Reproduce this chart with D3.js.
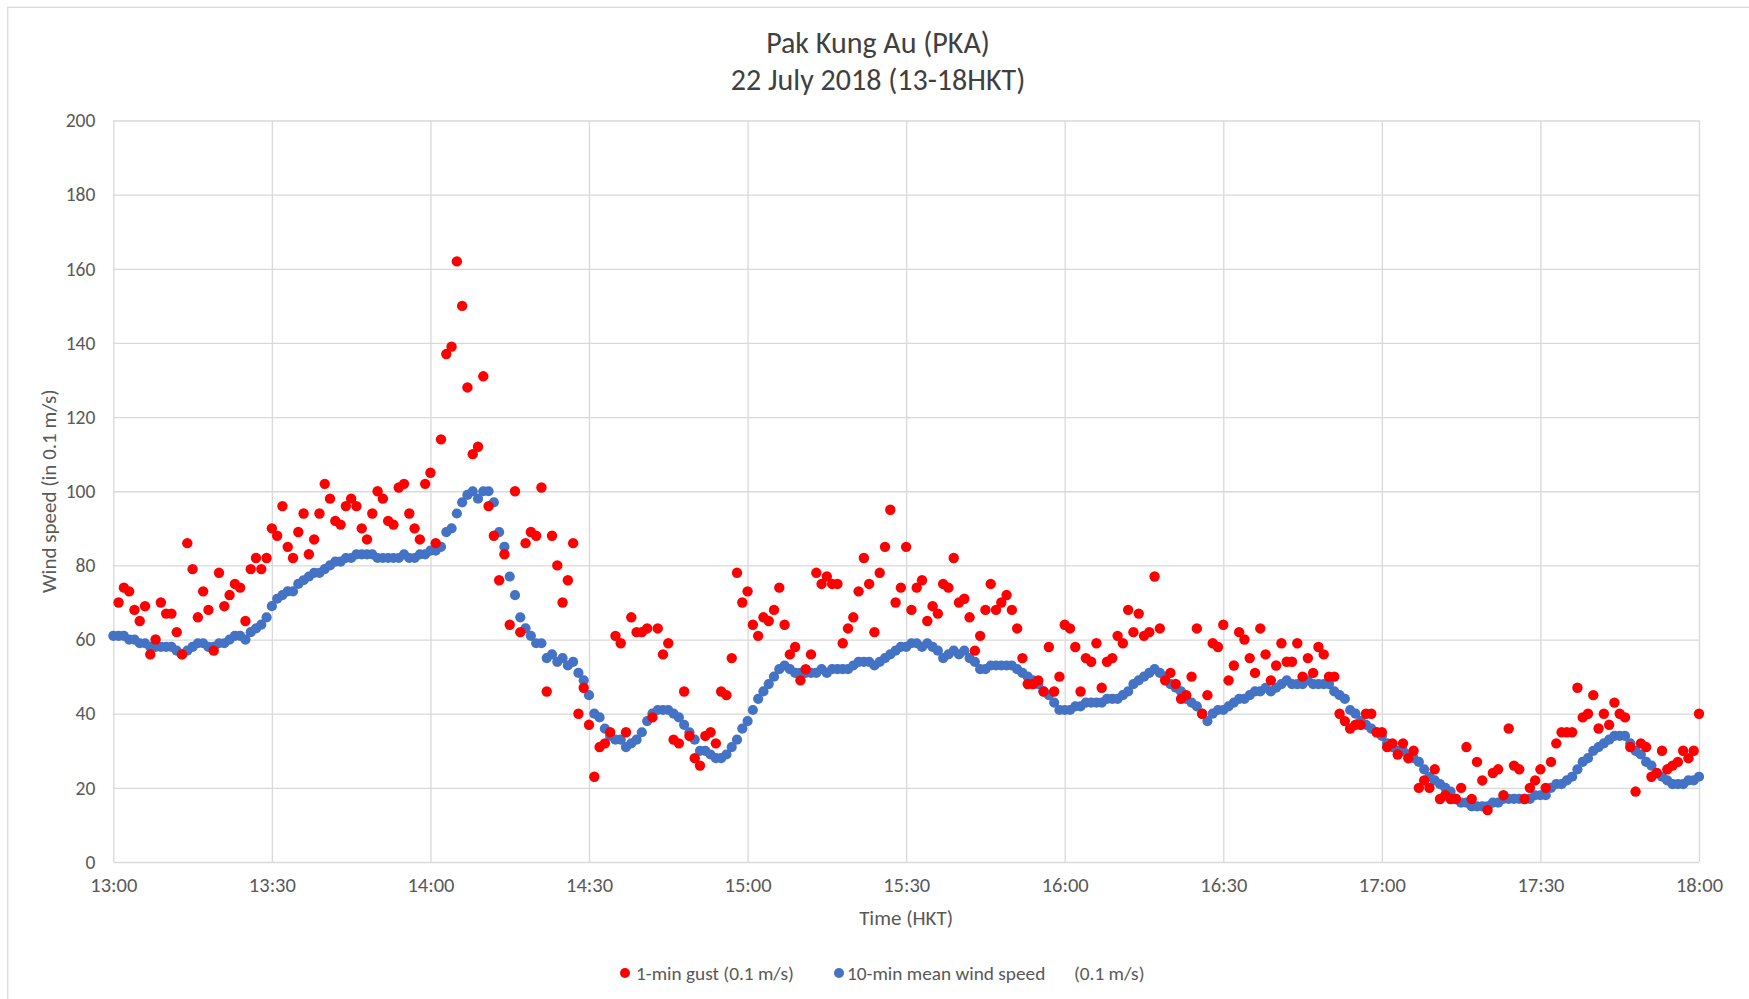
<!DOCTYPE html>
<html>
<head>
<meta charset="utf-8">
<script src="https://cdn.jsdelivr.net/npm/d3@7"></script>
<style>
  body { margin: 0; background: #ffffff; }
  svg text { font-family: Carlito, Lato, "Open Sans", sans-serif; }
</style>
</head>
<body>
<svg id="chart" width="1749" height="999"></svg>
<script>
// One reading per minute, 13:00 to 18:00 HKT (values in 0.1 m/s)
const startTime = "13:00";
const endTime = "18:00";

const gust = [null,70,74,73,68,65,69,56,60,70,
  67,67,62,56,86,79,66,73,68,57,
  78,69,72,75,74,65,79,82,79,82,
  90,88,96,85,82,89,94,83,87,94,
  102,98,92,91,96,98,96,90,87,94,
  100,98,92,91,101,102,94,90,87,102,
  105,86,114,137,139,162,150,128,110,112,
  131,96,88,76,83,64,100,62,86,89,
  88,101,46,88,80,70,76,86,40,47,
  37,23,31,32,35,61,59,35,66,62,
  62,63,39,63,56,59,33,32,46,34,
  28,26,34,35,32,46,45,55,78,70,
  73,64,61,66,65,68,74,64,56,58,
  49,52,56,78,75,77,75,75,59,63,
  66,73,82,75,62,78,85,95,70,74,
  85,68,74,76,65,69,67,75,74,82,
  70,71,66,57,61,68,75,68,70,72,
  68,63,55,48,48,49,46,58,46,50,
  64,63,58,46,55,54,59,47,54,55,
  61,59,68,62,67,61,62,77,63,49,
  51,48,44,45,50,63,40,45,59,58,
  64,49,53,62,60,55,51,63,56,49,
  53,59,54,54,59,50,55,51,58,56,
  50,50,40,38,36,37,37,40,40,35,
  35,31,32,29,32,28,30,20,22,20,
  25,17,18,17,17,20,31,17,27,22,
  14,24,25,18,36,26,25,17,20,22,
  25,20,27,32,35,35,35,47,39,40,
  45,36,40,37,43,40,39,31,19,32,
  31,23,24,30,25,26,27,30,28,30,
  40];

const meanSpeed = [61,61,61,60,60,59,59,58,58,58,
  58,58,57,56,57,58,59,59,58,58,
  59,59,60,61,61,60,62,63,64,66,
  69,71,72,73,73,75,76,77,78,78,
  79,80,81,81,82,82,83,83,83,83,
  82,82,82,82,82,83,82,82,83,83,
  84,84,85,89,90,94,97,99,100,98,
  100,100,97,89,85,77,72,66,63,61,
  59,59,55,56,54,55,53,54,51,49,
  45,40,39,36,34,33,33,31,32,33,
  35,38,40,41,41,41,40,39,37,35,
  33,30,30,29,28,28,29,31,33,36,
  38,41,44,46,48,50,52,53,52,51,
  51,51,51,51,52,51,52,52,52,52,
  53,54,54,54,53,54,55,56,57,58,
  58,59,59,58,59,58,57,55,56,57,
  56,57,55,54,52,52,53,53,53,53,
  53,52,51,50,49,48,46,45,43,41,
  41,41,42,42,43,43,43,43,44,44,
  44,45,46,48,49,50,51,52,51,50,
  48,47,46,44,43,42,40,38,40,41,
  41,42,43,44,44,45,46,46,47,46,
  47,48,49,48,48,48,49,48,48,48,
  48,46,45,44,41,40,38,37,36,35,
  34,32,31,30,30,29,28,27,25,23,
  22,21,20,19,17,16,16,15,15,15,
  15,16,16,17,17,17,17,17,17,18,
  18,18,20,21,21,22,23,25,27,28,
  30,31,32,33,34,34,34,32,30,29,
  27,26,24,23,22,21,21,21,22,22,
  23];

const timeTicks = ["13:00","13:30","14:00","14:30","15:00","15:30","16:00","16:30","17:00","17:30","18:00"];
const valueTicks = [0,20,40,60,80,100,120,140,160,180,200];

const titleLines = ["Pak Kung Au (PKA)", "22 July 2018 (13-18HKT)"];
const xTitle = "Time (HKT)";
const yTitle = "Wind speed (in 0.1 m/s)";
const seriesNames = ["1-min gust (0.1 m/s)", "10-min mean wind speed", "(0.1 m/s)"];
const colors = { gust: "#ff0000", mean: "#4472c4", grid: "#d9d9d9", axisText: "#595959", title: "#404040" };

const parseTime = d3.timeParse("%H:%M");
const t0 = parseTime(startTime);
const minuteAt = i => d3.timeMinute.offset(t0, i);

const svg = d3.select("#chart");
const plot = { left: 113.3, right: 1699, top: 120.5, bottom: 862 };

const x = d3.scaleTime().domain([t0, parseTime(endTime)]).range([plot.left, plot.right]);
const y = d3.scaleLinear().domain([0, 200]).range([plot.bottom, plot.top]);

// chart frame
svg.append("rect")
  .attr("x", 7.7).attr("y", 7.3)
  .attr("width", 1800).attr("height", 1100)
  .attr("fill", "#fff").attr("stroke", colors.grid).attr("stroke-width", 1.3);

// horizontal grid + value labels
const yAxis = svg.append("g")
  .attr("transform", `translate(${plot.left},0)`)
  .call(d3.axisLeft(y).tickValues(valueTicks).tickSize(-(plot.right - plot.left)).tickPadding(18));
yAxis.select(".domain").remove();
yAxis.selectAll(".tick line").attr("stroke", colors.grid).attr("stroke-width", 1.3);
yAxis.selectAll(".tick text")
  .attr("fill", colors.axisText).style("font-size", "19.5px");

// vertical grid + time labels
const xAxis = svg.append("g")
  .attr("transform", `translate(0,${plot.bottom})`)
  .call(d3.axisBottom(x).tickValues(timeTicks.map(parseTime))
    .tickFormat(d3.timeFormat("%H:%M"))
    .tickSize(-(plot.bottom - plot.top)).tickPadding(15));
xAxis.select(".domain").remove();
xAxis.selectAll(".tick line").attr("stroke", colors.grid).attr("stroke-width", 1.3);
xAxis.selectAll(".tick text")
  .attr("fill", colors.axisText).style("font-size", "20.5px");

// data points: mean speed underneath, gust on top
const meanPts = meanSpeed.map((v, i) => ({ t: minuteAt(i), v })).filter(d => d.v != null);
const gustPts = gust.map((v, i) => ({ t: minuteAt(i), v })).filter(d => d.v != null);

svg.append("g").selectAll("circle").data(meanPts).join("circle")
  .attr("cx", d => x(d.t)).attr("cy", d => y(d.v)).attr("r", 5.1)
  .attr("fill", colors.mean);

svg.append("g").selectAll("circle").data(gustPts).join("circle")
  .attr("cx", d => x(d.t)).attr("cy", d => y(d.v)).attr("r", 5.2)
  .attr("fill", colors.gust);

// titles
const titleG = svg.append("g").attr("fill", colors.title).attr("text-anchor", "middle")
  .style("font-size", "30px");
titleG.selectAll("text").data(titleLines).join("text")
  .attr("x", 878).attr("y", (d, i) => 53 + i * 37).text(d => d);

svg.append("text")
  .attr("x", (plot.left + plot.right) / 2).attr("y", 925)
  .attr("text-anchor", "middle").attr("fill", colors.axisText)
  .style("font-size", "21px").text(xTitle);

svg.append("text")
  .attr("transform", `translate(56,${(plot.top + plot.bottom) / 2}) rotate(-90)`)
  .attr("text-anchor", "middle").attr("fill", colors.axisText)
  .style("font-size", "21px").text(yTitle);

// legend
const legend = svg.append("g").attr("fill", colors.axisText).style("font-size", "19.3px");
legend.append("circle").attr("cx", 625).attr("cy", 973).attr("r", 5).attr("fill", colors.gust);
legend.append("text").attr("x", 636).attr("y", 979.5).text(seriesNames[0]);
legend.append("circle").attr("cx", 839).attr("cy", 973).attr("r", 5).attr("fill", colors.mean);
legend.append("text").attr("x", 847).attr("y", 979.5).text(seriesNames[1]);
legend.append("text").attr("x", 1074).attr("y", 979.5).text(seriesNames[2]);
</script>
</body>
</html>
